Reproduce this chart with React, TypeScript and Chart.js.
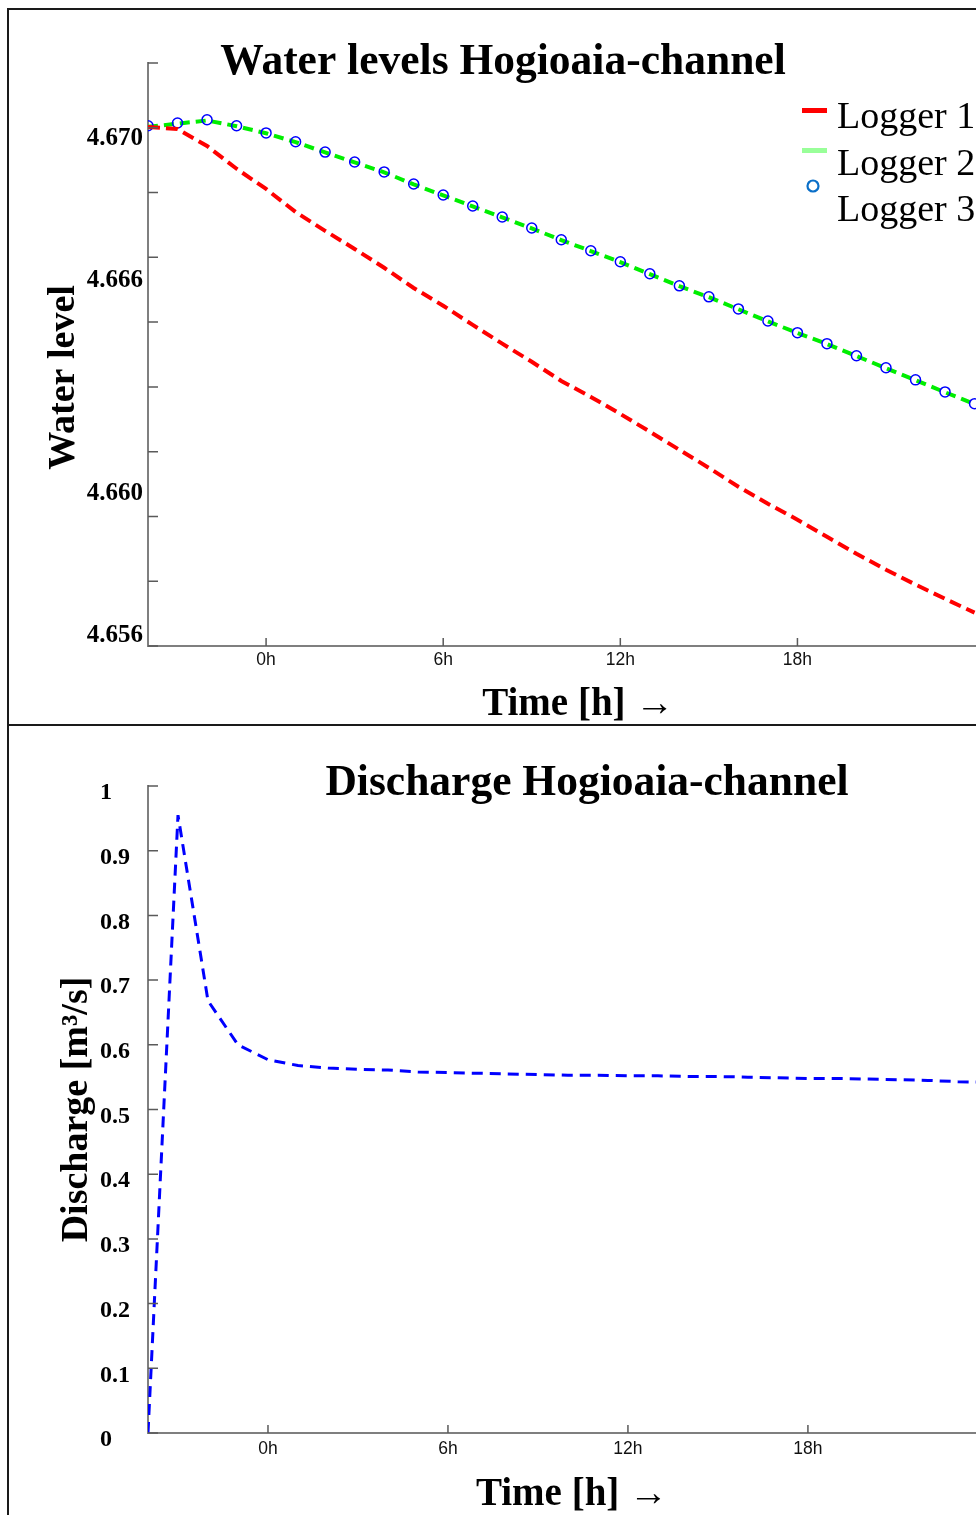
import React, { useEffect, useRef } from 'react';
import { Chart, registerables } from 'chart.js';

Chart.register(...registerables);

// ---------------- data ----------------
const levelTitle = 'Water levels Hogioaia-channel';
const levelAxisTitle = 'Water level';
const timeAxisTitle = 'Time [h] →';
const loggerNames = ['Logger 1', 'Logger 2', 'Logger 3'];

const levelHours = [-4, -3, -2, -1, 0, 1, 2, 3, 4, 5, 6, 7, 8, 9, 10, 11, 12, 13, 14, 15, 16, 17, 18, 19, 20, 21, 22, 23, 24];
const logger1 = [4.67003, 4.66997, 4.66949, 4.66885, 4.66828, 4.66763, 4.6671, 4.66659, 4.66606, 4.66549, 4.66499, 4.66445, 4.66392, 4.66341, 4.66287, 4.66242, 4.66194, 4.66144, 4.66093, 4.66042, 4.65989, 4.65941, 4.65896, 4.65848, 4.658, 4.65755, 4.65713, 4.65673, 4.65634];
const logger2 = [4.67003, 4.67012, 4.67021, 4.67005, 4.66985, 4.6696, 4.66931, 4.66903, 4.66875, 4.66841, 4.6681, 4.66779, 4.66748, 4.66717, 4.66684, 4.66653, 4.66622, 4.66588, 4.66554, 4.66523, 4.66489, 4.66455, 4.66422, 4.66391, 4.66357, 4.66323, 4.66289, 4.66255, 4.66222];
const logger3 = [4.67006, 4.67014, 4.67023, 4.67006, 4.66986, 4.66961, 4.66932, 4.66904, 4.66876, 4.66842, 4.66811, 4.6678, 4.66749, 4.66718, 4.66685, 4.66654, 4.66623, 4.66589, 4.66555, 4.66524, 4.6649, 4.66456, 4.66423, 4.66392, 4.66358, 4.66324, 4.6629, 4.66256, 4.66223];
const levelTickLabels = [4.656, 4.66, 4.666, 4.67];
const levelMin = 4.6554;
const levelMax = 4.67183;
const levelTickMarkCount = 10;

const timeTicks = [0, 6, 12, 18];

const dischargeTitle = 'Discharge Hogioaia-channel';
const dischargeAxisTitle = 'Discharge [m³/s]';
const dischargeHours = [-4, -3, -2, -1, 0, 1, 2, 3, 4, 5, 6, 7, 8, 9, 10, 11, 12, 13, 14, 15, 16, 17, 18, 19, 20, 21, 22, 23, 24];
const discharge = [0, 0.955, 0.668, 0.6, 0.577, 0.568, 0.564, 0.562, 0.561, 0.558, 0.557, 0.556, 0.555, 0.554, 0.553, 0.553, 0.552, 0.552, 0.551, 0.551, 0.55, 0.549, 0.548, 0.548, 0.547, 0.546, 0.545, 0.543, 0.542];
const dischargeTicks = [0, 0.1, 0.2, 0.3, 0.4, 0.5, 0.6, 0.7, 0.8, 0.9, 1];

// ---------------- styles ----------------
const SERIF = "'Liberation Serif', 'Times New Roman', Times, serif";
const SANS = "'Liberation Sans', Arial, Helvetica, sans-serif";
const AXIS_GRAY = '#7f7f7f';

function innerTicks(xVals: number[], yVals: number[]) {
  return {
    id: 'innerTicks',
    afterDatasetsDraw(chart: any) {
      const { ctx, chartArea } = chart;
      const xs = chart.scales.x;
      const ys = chart.scales.y;
      ctx.save();
      ctx.strokeStyle = '#5a5a5a';
      ctx.lineWidth = 1.5;
      ctx.beginPath();
      yVals.forEach((v) => {
        const p = ys.getPixelForValue(v);
        ctx.moveTo(chartArea.left, p);
        ctx.lineTo(chartArea.left + 10, p);
      });
      xVals.forEach((v) => {
        const p = xs.getPixelForValue(v);
        ctx.moveTo(p, chartArea.bottom);
        ctx.lineTo(p, chartArea.bottom - 8);
      });
      ctx.stroke();
      ctx.restore();
    },
  };
}

// nudges part of a scale drawn by Chart.js (its title or its labels) by a few pixels
function nudgeScalePart(axis: string, method: 'drawTitle' | 'drawLabels', dx: number, dy: number) {
  const flag = '__nudged_' + method;
  return {
    id: 'nudge_' + axis + '_' + method,
    afterLayout(chart: any) {
      const s = chart.scales[axis];
      if (!s || s[flag]) return;
      const orig = s[method];
      s[method] = function (...a: any[]) {
        const ctx = this.ctx;
        ctx.save();
        ctx.translate(dx, dy);
        orig.apply(this, a);
        ctx.restore();
      };
      s[flag] = true;
    },
  };
}

type LegendItemStyle = { kind: 'line' | 'circle'; color: string; markerY: number };

function cornerLegend(textX: number, markerX: number, textY0: number, rowGap: number, items: LegendItemStyle[]) {
  return {
    id: 'cornerLegend',
    afterDraw(chart: any) {
      const ctx = chart.ctx;
      ctx.save();
      ctx.font = `38px ${SERIF}`;
      ctx.textBaseline = 'middle';
      ctx.textAlign = 'left';
      items.forEach((it, i) => {
        const ds = chart.data.datasets[i];
        if (it.kind === 'line') {
          ctx.fillStyle = it.color;
          ctx.fillRect(markerX, it.markerY - 2.5, 25, 5);
        } else {
          ctx.strokeStyle = it.color;
          ctx.lineWidth = 2.2;
          ctx.beginPath();
          ctx.arc(markerX + 11, it.markerY, 5.5, 0, Math.PI * 2);
          ctx.stroke();
        }
        ctx.fillStyle = '#000';
        ctx.fillText(ds.label, textX, textY0 + i * rowGap);
      });
      ctx.restore();
    },
  };
}

function levelConfig(): any {
  const pts = (arr: number[]) => levelHours.map((h, i) => ({ x: h, y: arr[i] }));
  const marks = Array.from({ length: levelTickMarkCount }, (_, k) => levelMin + (k * (levelMax - levelMin)) / (levelTickMarkCount - 1));
  return {
    type: 'line',
    data: {
      datasets: [
        { label: loggerNames[0], data: pts(logger1), borderColor: '#ff0000', borderWidth: 4, borderDash: [12, 6], pointRadius: 0, order: 0, clip: 0, tension: 0 },
        { label: loggerNames[1], data: pts(logger2), borderColor: '#00ee00', borderWidth: 4, borderDash: [10, 6], pointRadius: 0, order: 2, clip: 0, tension: 0 },
        {
          label: loggerNames[2], data: pts(logger3), showLine: false, borderColor: '#0000ff', pointRadius: 5,
          pointBorderWidth: 1.5, pointBorderColor: '#0000ff', pointBackgroundColor: 'rgba(0,0,0,0)', order: 1, clip: 0,
        },
      ],
    },
    options: {
      responsive: false,
      animation: false,
      devicePixelRatio: 1,
      events: [],
      layout: { padding: 0 },
      plugins: {
        legend: { display: false },
        tooltip: { enabled: false },
        title: {
          display: true,
          text: levelTitle,
          color: '#000',
          font: { family: SERIF, size: 43.5, weight: 'bold' },
          padding: { top: 27, bottom: -26.2 },
        },
      },
      scales: {
        x: {
          type: 'linear',
          min: -4,
          max: 24.54,
          grid: { display: false, drawTicks: false },
          border: { display: true, color: AXIS_GRAY, width: 2 },
          afterBuildTicks: (s: any) => { s.ticks = timeTicks.map((v) => ({ value: v })); },
          afterFit: (s: any) => { s.height = 78; },
          ticks: {
            autoSkip: false, maxRotation: 0, padding: 4, color: '#111',
            font: { family: SANS, size: 17.5 },
            callback: (v: any) => `${v}h`,
          },
          title: {
            display: true, text: timeAxisTitle, color: '#000',
            font: { family: SERIF, size: 39, weight: 'bold' },
            padding: { top: 0, bottom: -1 },
          },
        },
        y: {
          type: 'linear',
          min: levelMin,
          max: levelMax,
          grid: { display: false, drawTicks: false },
          border: { display: true, color: AXIS_GRAY, width: 2 },
          afterBuildTicks: (s: any) => { s.ticks = levelTickLabels.map((v) => ({ value: v })); },
          afterFit: (s: any) => { s.width = 139; },
          ticks: {
            autoSkip: false, padding: 5, labelOffset: 10.5, color: '#000',
            font: { family: SERIF, size: 25, weight: 'bold' },
            callback: (v: any) => Number(v).toFixed(3),
          },
          title: {
            display: true, text: levelAxisTitle, color: '#000',
            font: { family: SERIF, size: 38, weight: 'bold' },
            padding: { top: 32, bottom: 0 },
          },
        },
      },
    },
    plugins: [
      innerTicks(timeTicks, marks),
      nudgeScalePart('y', 'drawTitle', 0, 23),
      nudgeScalePart('x', 'drawTitle', 9, 3),
      cornerLegend(828, 793, 108, 46.75, [
        { kind: 'line', color: '#ff0000', markerY: 100.5 },
        { kind: 'line', color: '#99ff99', markerY: 140.5 },
        { kind: 'circle', color: '#0a6fc8', markerY: 176 },
      ]),
    ],
  };
}

function dischargeConfig(): any {
  return {
    type: 'line',
    data: {
      datasets: [
        {
          label: dischargeAxisTitle,
          data: dischargeHours.map((h, i) => ({ x: h, y: discharge[i] })),
          borderColor: '#0000ff', borderWidth: 3, borderDash: [11, 7], borderJoinStyle: 'bevel',
          pointRadius: 0, clip: 0, tension: 0, yAxisID: 'y',
        },
      ],
    },
    options: {
      responsive: false,
      animation: false,
      devicePixelRatio: 1,
      events: [],
      layout: { padding: 0 },
      plugins: {
        legend: { display: false },
        tooltip: { enabled: false },
        title: {
          display: true,
          text: dischargeTitle,
          color: '#000',
          font: { family: SERIF, size: 43.5, weight: 'bold' },
          padding: { top: 31.4, bottom: -23.6 },
        },
      },
      scales: {
        x: {
          type: 'linear',
          min: -4,
          max: 24.27,
          grid: { display: false, drawTicks: false },
          border: { display: true, color: AXIS_GRAY, width: 2 },
          afterBuildTicks: (s: any) => { s.ticks = timeTicks.map((v) => ({ value: v })); },
          afterFit: (s: any) => { s.height = 83; },
          ticks: {
            autoSkip: false, maxRotation: 0, padding: 6, color: '#111',
            font: { family: SANS, size: 17.5 },
            callback: (v: any) => `${v}h`,
          },
          title: {
            display: true, text: timeAxisTitle, color: '#000',
            font: { family: SERIF, size: 39, weight: 'bold' },
            padding: { top: 0, bottom: 0 },
          },
        },
        y: {
          type: 'linear',
          min: 0,
          max: 1,
          grid: { display: false, drawTicks: false },
          border: { display: true, color: AXIS_GRAY, width: 2 },
          afterBuildTicks: (s: any) => { s.ticks = dischargeTicks.map((v) => ({ value: v })); },
          afterFit: (s: any) => { s.width = 139; },
          ticks: {
            autoSkip: false, padding: 17, labelOffset: 7, color: '#000', crossAlign: 'far',
            font: { family: SERIF, size: 24, weight: 'bold' },
            callback: (v: any) => String(v),
          },
          title: {
            display: true, text: dischargeAxisTitle, color: '#000',
            font: { family: SERIF, size: 38, weight: 'bold' },
            padding: { top: 45, bottom: 0 },
          },
        },
        yR: {
          type: 'linear',
          position: 'right',
          display: true,
          grid: { display: false, drawTicks: false },
          border: { display: false },
          ticks: { display: false },
          afterFit: (s: any) => { s.width = 169; },
        },
      },
    },
    plugins: [
      innerTicks(timeTicks, dischargeTicks),
      nudgeScalePart('x', 'drawTitle', 0, 2),
      nudgeScalePart('y', 'drawLabels', 91, 0),
    ],
  };
}

function ChartCanvas({ make, width, height }: { make: () => any; width: number; height: number }) {
  const ref = useRef<HTMLCanvasElement>(null);
  useEffect(() => {
    if (!ref.current) return;
    const chart = new Chart(ref.current, make());
    return () => chart.destroy();
  }, [make]);
  return <canvas ref={ref} width={width} height={height} style={{ display: 'block', width, height }} />;
}

export default function App() {
  return (
    <div style={{ position: 'fixed', left: 0, top: 0, right: 0, bottom: 0, overflow: 'hidden', background: '#fff' }}>
      <div style={{ position: 'absolute', left: 7, top: 8, width: 1200, border: '2px solid #1a1a1a', background: '#fff' }}>
        <div style={{ height: 714, borderBottom: '2px solid #1a1a1a', overflow: 'hidden' }}>
          <ChartCanvas make={levelConfig} width={988} height={714} />
        </div>
        <div style={{ height: 800, overflow: 'hidden' }}>
          <ChartCanvas make={dischargeConfig} width={1156} height={790} />
        </div>
      </div>
    </div>
  );
}
